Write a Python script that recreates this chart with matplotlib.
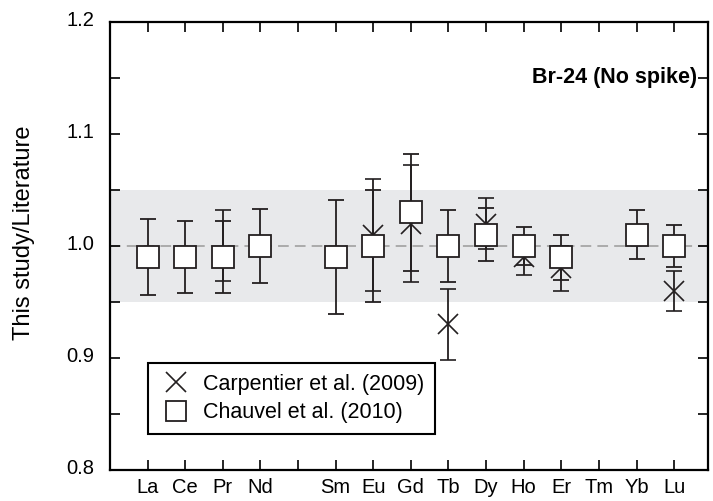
import numpy as np
import matplotlib
matplotlib.use("Agg")
import matplotlib.pyplot as plt
from matplotlib.lines import Line2D
from matplotlib.ticker import MultipleLocator, FormatStrFormatter
import matplotlib.transforms as mtransforms

nan = np.nan
elements = ["La", "Ce", "Pr", "Nd", "", "Sm", "Eu", "Gd", "Tb", "Dy", "Ho", "Er", "Tm", "Yb", "Lu"]
chauvel = [0.99, 0.99, 0.99, 1.00, nan, 0.99, 1.00, 1.03, 1.00, 1.01, 1.00, 0.99, nan, 1.01, 1.00]
chauvel_err = [0.034, 0.032, 0.032, 0.033, nan, 0.051, 0.050, 0.052, 0.032, 0.0235, 0.017, 0.020, nan, 0.022, 0.0185]
carpentier = [nan, nan, 0.99, nan, nan, nan, 1.01, 1.02, 0.93, 1.02, 0.99, 0.98, nan, nan, 0.96]
carp_err_lo = [nan, nan, 0.021, nan, nan, nan, 0.050, 0.052, 0.032, 0.023, 0.016, 0.020, nan, nan, 0.018]
carp_err_hi = [nan, nan, 0.042, nan, nan, nan, 0.050, 0.052, 0.032, 0.023, 0.016, 0.020, nan, nan, 0.018]
band = (0.95, 1.05)
title = "Br-24 (No spike)"
ylabel = "This study/Literature"
legend_labels = ["Carpentier et al. (2009)", "Chauvel et al. (2010)"]

plt.rcParams["font.family"] = ["Liberation Sans", "DejaVu Sans"]
ink = "#231f20"

fig = plt.figure(figsize=(7.13, 5.01), dpi=100)
ax = fig.add_axes([110 / 713, 31 / 501, 598 / 713, 448 / 501])

x = np.arange(1, len(elements) + 1)

ax.axhspan(band[0], band[1], color="#e8e9eb", zorder=0, lw=0)
ax.axhline(1.0, color="#9a9a9a", lw=1.1, ls=(0, (7, 4)), zorder=1)

cx = np.array(carpentier)
ax.errorbar(x, cx, yerr=[carp_err_lo, carp_err_hi], fmt="x", ms=15, mew=1.2,
            color=ink, ecolor=ink, elinewidth=1.3, capsize=5.5, capthick=1.3, zorder=2)
ax.errorbar(x, chauvel, yerr=chauvel_err, fmt="s", ms=15.5, mfc="white", mec=ink, mew=1.3,
            ecolor=ink, elinewidth=1.3, capsize=5.5, capthick=1.3, zorder=3)

ax.set_xlim(0, 15.9)
ax.set_ylim(0.8, 1.2)
ax.set_xticks(x)
ax.set_xticklabels(elements)
ax.yaxis.set_major_locator(MultipleLocator(0.1))
ax.yaxis.set_minor_locator(MultipleLocator(0.05))
ax.yaxis.set_major_formatter(FormatStrFormatter("%.1f"))

for s in ax.spines.values():
    s.set_linewidth(1.6)
    s.set_color("black")
ax.tick_params(axis="both", which="both", direction="in", length=7, width=1.2,
               top=True, right=True, color="black")
ax.tick_params(axis="y", which="major", labelsize=14.5, pad=11)
ax.tick_params(axis="x", which="major", labelsize=14.5, pad=6)

off = mtransforms.ScaledTranslation(0, 3 / 100, fig.dpi_scale_trans)
for lab in ax.get_yticklabels():
    lab.set_transform(lab.get_transform() + off)

ax.set_ylabel(ylabel, fontsize=17)
ax.yaxis.set_label_coords(-0.125, 0.53)
ax.text(0.982, 0.875, title, transform=ax.transAxes, ha="right", va="center",
        fontsize=15.5, fontweight="bold")

handles = [
    Line2D([], [], marker="x", ls="none", ms=15, mew=1.2, color=ink),
    Line2D([], [], marker="s", ls="none", ms=15, mfc="white", mec=ink, mew=1.3),
]
leg = ax.legend(handles, legend_labels, loc="lower left", bbox_to_anchor=(0.0635, 0.080),
                borderaxespad=0, fontsize=15.5, frameon=True, fancybox=False,
                handlelength=1.6, handletextpad=0.45, labelspacing=0.35, borderpad=0.5)
leg.get_frame().set_edgecolor("black")
leg.get_frame().set_linewidth(1.5)
leg.get_frame().set_alpha(1)

fig.savefig("out.png", dpi=100)
